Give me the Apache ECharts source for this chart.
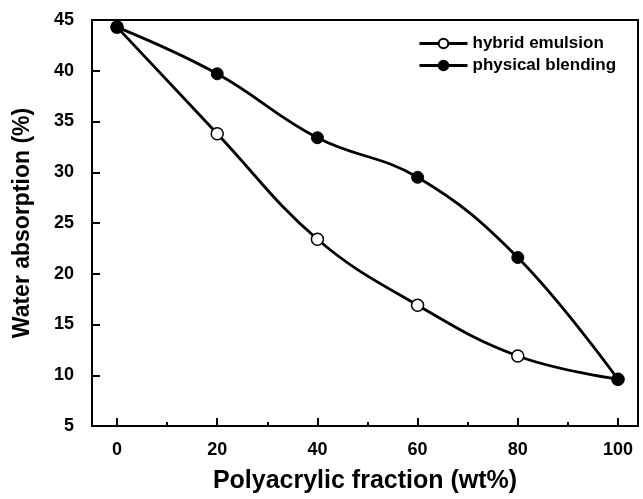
<!DOCTYPE html>
<html>
<head>
<meta charset="utf-8">
<script src="https://cdn.jsdelivr.net/npm/echarts@6/dist/echarts.min.js"></script>
<style>
  html, body { margin: 0; padding: 0; background: #fff; }
  #chart { width: 643px; height: 499px; }
</style>
</head>
<body>
<div id="chart"></div>
<script>
// polyacrylic fraction (wt%)
var fractions = [0, 20, 40, 60, 80, 100]
var hybridEmulsion = [44.3, 33.8, 23.4, 16.9, 11.9, 9.6]
var physicalBlending = [44.3, 39.7, 33.4, 29.5, 21.6, 9.6]
var majorTicksX = [0, 20, 40, 60, 80, 100]
var minorTicksX = [10, 30, 50, 70, 90]

function pairs(xs, ys) {
  return xs.map(function (x, i) { return [x, ys[i]] })
}

var font = 'Liberation Sans, Arial, sans-serif'
var chart = echarts.init(document.getElementById('chart'))

var option = {
  animation: false,
  grid: {
    left: 92, top: 20, right: 5, bottom: 70,
    show: true, borderColor: '#000', borderWidth: 2
  },
  legend: {
    orient: 'vertical',
    left: 413, top: 30,
    itemWidth: 48, itemHeight: 12, itemGap: 5,
    lineStyle: { width: 3 },
    textStyle: { fontFamily: font, fontWeight: 'bold', fontSize: 17, color: '#000' },
    data: ['hybrid emulsion', 'physical blending']
  },
  xAxis: [{
    type: 'value', min: -5, max: 104,
    name: 'Polyacrylic fraction (wt%)',
    nameLocation: 'middle', nameGap: 43,
    nameTextStyle: { fontFamily: font, fontWeight: 'bold', fontSize: 25, color: '#000' },
    axisLine: { onZero: false, lineStyle: { color: '#000', width: 2 } },
    axisTick: { inside: true, length: 8, customValues: majorTicksX, lineStyle: { color: '#000', width: 2 } },
    axisLabel: { customValues: majorTicksX, margin: 15, fontFamily: font, fontWeight: 'bold', fontSize: 18, color: '#000' },
    splitLine: { show: false }
  }, {
    type: 'value', min: -5, max: 104, position: 'bottom',
    axisLine: { show: false, onZero: false },
    axisTick: { inside: true, length: 4, customValues: minorTicksX, lineStyle: { color: '#000', width: 2 } },
    axisLabel: { show: false },
    splitLine: { show: false }
  }],
  yAxis: {
    type: 'value', min: 5, max: 45, interval: 5,
    name: 'Water absorption (%)',
    nameLocation: 'middle', nameGap: 58,
    nameTextStyle: { fontFamily: font, fontWeight: 'bold', fontSize: 23, color: '#000' },
    axisLine: { onZero: false, lineStyle: { color: '#000', width: 2 } },
    axisTick: { inside: true, length: 8, lineStyle: { color: '#000', width: 2 } },
    axisLabel: { margin: 18, fontFamily: font, fontWeight: 'bold', fontSize: 18, color: '#000' },
    splitLine: { show: false }
  },
  series: [
    {
      name: 'hybrid emulsion',
      type: 'line',
      smooth: 0.4,
      data: pairs(fractions, hybridEmulsion),
      symbol: 'circle', symbolSize: 12,
      lineStyle: { color: '#000', width: 2.8 },
      itemStyle: { color: '#fff', borderColor: '#000', borderWidth: 1.5 },
      z: 3
    },
    {
      name: 'physical blending',
      type: 'line',
      smooth: 0.4,
      data: pairs(fractions, physicalBlending),
      symbol: 'circle', symbolSize: 12,
      lineStyle: { color: '#000', width: 2.8 },
      itemStyle: { color: '#000', borderColor: '#000', borderWidth: 1 },
      z: 4
    }
  ]
}

chart.setOption(option)
window.addEventListener('resize', function () { chart.resize() })
</script>
</body>
</html>
